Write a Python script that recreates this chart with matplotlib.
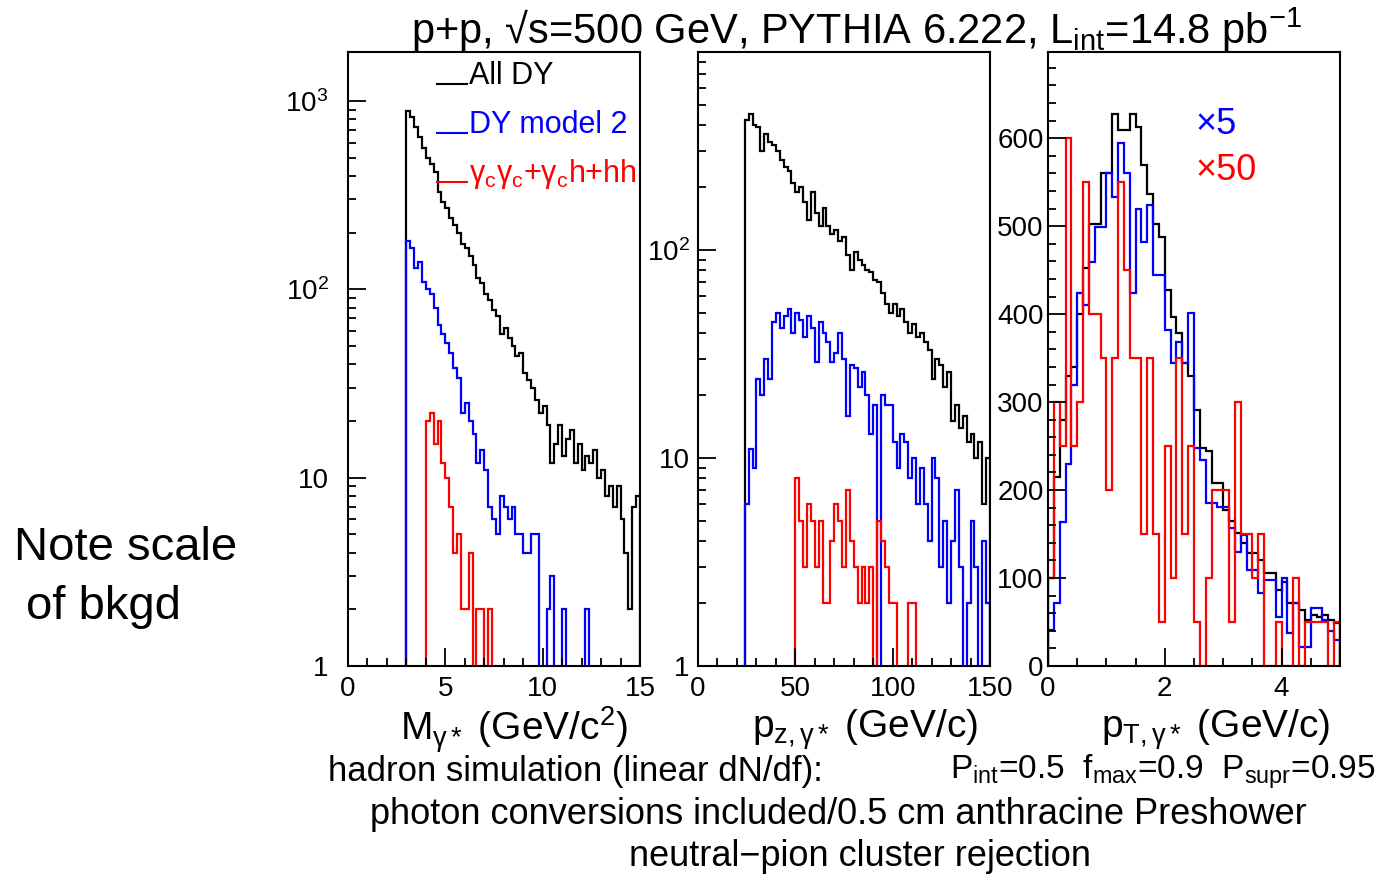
import numpy as np
import matplotlib
matplotlib.use("Agg")
import matplotlib.pyplot as plt
from matplotlib.ticker import FixedLocator, MultipleLocator, FixedFormatter, NullFormatter, LogLocator

plt.rcParams['font.family'] = ['Liberation Sans', 'DejaVu Sans']
plt.rcParams['mathtext.fontset'] = 'custom'
plt.rcParams['mathtext.rm'] = 'Liberation Sans'
plt.rcParams['mathtext.it'] = 'Liberation Sans'

# panel 1: M_gamma* , 0.2 GeV bins
mass_start, mass_step = 3.0, 0.2
mass_all = [880, 820, 730, 640, 560, 500, 460, 420, 330, 290,
            270, 240, 220, 200, 175, 165, 150, 135, 115, 108,
            95, 88, 78, 72, 58, 62, 55, 50, 44, 46,
            36, 33, 30, 26, 22, 24, 19, 12, 15, 19,
            13, 16, 18, 12, 15, 11, 13, 12, 14, 10,
            11, 8, 9, 7, 9, 6, 4, 2, 7, 8]
mass_dy2 = [180, 165, 130, 140, 110, 100, 95, 80, 65, 58,
            52, 46, 38, 34, 22, 25, 20, 17, 12, 14,
            11, 7, 6, 5, 8, 7, 6, 7, 5, 5,
            4, 4, 5, 5, 0, 0, 2, 3, 0, 0,
            2, 0, 0, 0, 0, 0, 2, 0]
mass_bkg_start = 4.0
mass_bkg = [20, 22, 15, 20, 12, 10, 7, 4, 5, 2,
            2, 4, 0, 2, 2, 0, 2, 0]

# panel 2: p_z, 2 GeV bins
pz_start, pz_step = 24, 2
pz_all = [420, 450, 400, 390, 300, 360, 330, 320, 300, 270,
          250, 240, 210, 190, 200, 170, 140, 190, 150, 130,
          160, 130, 120, 125, 110, 115, 95, 80, 98, 90,
          85, 80, 78, 72, 70, 62, 55, 50, 55, 48,
          52, 45, 40, 44, 38, 40, 36, 33, 24, 30,
          28, 22, 26, 15, 18, 14, 16, 12, 13, 10,
          12, 6, 10]
pz_dy2 = [6, 11, 9, 24, 20, 30, 24, 45, 50, 42,
          48, 52, 40, 50, 46, 38, 48, 42, 29, 45,
          40, 36, 29, 32, 40, 30, 16, 28, 27, 22,
          26, 20, 13, 18, 0, 20, 18, 18, 12, 9,
          13, 12, 8, 10, 6, 9, 6, 4, 10, 8,
          3, 5, 2, 4, 7, 3, 0, 2, 5, 3,
          0, 4, 2]
pz_bkg_start = 50
pz_bkg = [8, 5, 3, 6, 5, 3, 5, 2, 2, 4,
          6, 5, 3, 7, 4, 3, 2, 3, 2, 3,
          1, 5, 4, 3, 2, 2, 0, 0, 0, 2,
          2, 0]

# panel 3: p_T, 0.1 GeV bins (DY model 2 x5, background x50)
pt_start, pt_step = 0.0, 0.1
pt_all = [100, 215, 280, 330, 340, 400, 452, 503, 503, 560,
          560, 628, 609, 609, 628, 613, 569, 537, 503, 488,
          427, 397, 378, 344, 330, 291, 248, 244, 208, 208,
          177, 165, 151, 140, 129, 129, 120, 106, 106, 86,
          96, 72, 72, 64, 52, 58, 56, 58, 52, 49]
pt_dy2 = [41, 72, 164, 230, 320, 424, 410, 459, 499, 499,
          560, 533, 594, 560, 424, 520, 482, 524, 444, 444,
          382, 344, 368, 344, 401, 248, 234, 185, 185, 181,
          181, 157, 130, 149, 109, 109, 83, 98, 98, 56,
          100, 37, 72, 22, 22, 66, 66, 52, 40, 30]
pt_bkg = [100, 300, 250, 600, 250, 300, 550, 400, 400, 350,
          200, 350, 550, 450, 350, 350, 150, 350, 150, 50,
          250, 100, 350, 150, 250, 50, 0, 100, 200, 200,
          200, 50, 300, 150, 150, 100, 150, 0, 0, 50,
          0, 0, 100, 0, 50, 50, 50, 50, 0, 50]

W, H = 1385, 876
fig = plt.figure(figsize=(W / 100, H / 100), dpi=100)


def px_axes(left, right, top, bottom):
    return fig.add_axes([left / W, 1 - bottom / H, (right - left) / W, (bottom - top) / H])


def hist(ax, vals, start, step, color, floor=0.0):
    v = np.asarray(vals, dtype=float)
    if floor > 0:
        v = np.where(v > 0, v, floor)
    edges = start + step * np.arange(len(v) + 1)
    ax.stairs(v, edges, baseline=floor, color=color, lw=1.6)


def style(ax):
    for s in ax.spines.values():
        s.set_linewidth(1.5)
    ax.tick_params(which='both', direction='in', top=False, right=False, labelsize=20)
    ax.tick_params(which='major', length=13, width=1.3)
    ax.tick_params(which='minor', length=6, width=1.3)
    ax.tick_params(axis='y', pad=14)
    ax.tick_params(axis='x', pad=7)


col_k, col_b, col_r = '#000000', '#0000ff', '#ff0000'
fl = 0.5

# panel 1
ax1 = px_axes(348, 640, 52, 666)
ax1.set_yscale('log')
hist(ax1, mass_all, mass_start, mass_step, col_k, fl)
hist(ax1, mass_dy2, mass_start, mass_step, col_b, fl)
hist(ax1, mass_bkg, mass_bkg_start, mass_step, col_r, fl)
ax1.set_xlim(0, 15)
ax1.set_ylim(1, 1820)
ax1.yaxis.set_major_locator(FixedLocator([1, 10, 100, 1000]))
ax1.yaxis.set_major_formatter(FixedFormatter(['1', '10', '$10^2$', '$10^3$']))
ax1.yaxis.set_minor_locator(LogLocator(subs=np.arange(2, 10)))
ax1.yaxis.set_minor_formatter(NullFormatter())
ax1.xaxis.set_major_locator(MultipleLocator(5))
ax1.xaxis.set_minor_locator(MultipleLocator(1))
style(ax1)

leg = [("All DY", col_k, 76), ("DY model 2", col_b, 125), (r"$\mathrm{γ_cγ_c}$+$\mathrm{γ_c}$h+hh", col_r, 174)]
for txt, c, ypx in leg:
    yf = 1 - ypx / H
    fig.add_artist(plt.Line2D([437 / W, 467 / W], [yf - 8 / H, yf - 8 / H], color=c, lw=1.5))
    fig.text(469 / W, yf, txt, color=c, fontsize=22, va='center', ha='left')

# panel 2
ax2 = px_axes(698, 990, 52, 666)
ax2.set_yscale('log')
hist(ax2, pz_all, pz_start, pz_step, col_k, fl)
hist(ax2, pz_dy2, pz_start, pz_step, col_b, fl)
hist(ax2, pz_bkg, pz_bkg_start, pz_step, col_r, fl)
ax2.set_xlim(0, 150)
ax2.set_ylim(1, 896)
ax2.yaxis.set_major_locator(FixedLocator([1, 10, 100]))
ax2.yaxis.set_major_formatter(FixedFormatter(['1', '10', '$10^2$']))
ax2.yaxis.set_minor_locator(LogLocator(subs=np.arange(2, 10)))
ax2.yaxis.set_minor_formatter(NullFormatter())
ax2.xaxis.set_major_locator(MultipleLocator(50))
ax2.xaxis.set_minor_locator(MultipleLocator(10))
style(ax2)
ax2.tick_params(axis='y', pad=6)

# panel 3
ax3 = px_axes(1048, 1340, 52, 666)
hist(ax3, pt_all, pt_start, pt_step, col_k)
hist(ax3, pt_dy2, pt_start, pt_step, col_b)
hist(ax3, pt_bkg, pt_start, pt_step, col_r)
ax3.set_xlim(0, 5)
ax3.set_ylim(0, 698)
ax3.yaxis.set_major_locator(MultipleLocator(100))
ax3.yaxis.set_minor_locator(MultipleLocator(20))
ax3.xaxis.set_major_locator(MultipleLocator(2))
ax3.xaxis.set_minor_locator(MultipleLocator(0.5))
style(ax3)
ax3.tick_params(axis='y', pad=3)
fig.text(1196 / W, 1 - 124 / H, "×5", color=col_b, fontsize=26, va='center')
fig.text(1196 / W, 1 - 171 / H, "×50", color=col_r, fontsize=26, va='center')

# titles / labels
fig.text(857 / W, 1 - 30 / H, r"p+p, √s=500 GeV, PYTHIA 6.222, L$_{\mathrm{int}}$=14.8 pb$^{-1}$",
         fontsize=30, ha='center', va='center')
fig.text(514 / W, 1 - 730 / H, r"M$_{\mathrm{γ*}}$ (GeV/c$^2$)", fontsize=28, ha='center', va='center')
fig.text(865 / W, 1 - 730 / H, r"p$_{\mathrm{z,γ*}}$ (GeV/c)", fontsize=28, ha='center', va='center')
fig.text(1216 / W, 1 - 730 / H, r"p$_{\mathrm{T,γ*}}$ (GeV/c)", fontsize=28, ha='center', va='center')
fig.text(328 / W, 1 - 772 / H, "hadron simulation (linear dN/df):", fontsize=25, ha='left', va='center')
fig.text(950 / W, 1 - 772 / H, r"P$_{\mathrm{int}}$=0.5  f$_{\mathrm{max}}$=0.9  P$_{\mathrm{supr}}$=0.95",
         fontsize=24, ha='left', va='center')
fig.text(838 / W, 1 - 815 / H, "photon conversions included/0.5 cm anthracine Preshower",
         fontsize=26, ha='center', va='center')
fig.text(860 / W, 1 - 857 / H, "neutral−pion cluster rejection", fontsize=26, ha='center', va='center')

fig.text(14 / W, 1 - 548 / H, "Note scale", fontsize=34, ha='left', va='center')
fig.text(26 / W, 1 - 607 / H, "of bkgd", fontsize=34, ha='left', va='center')

fig.savefig("out.png", dpi=100)
